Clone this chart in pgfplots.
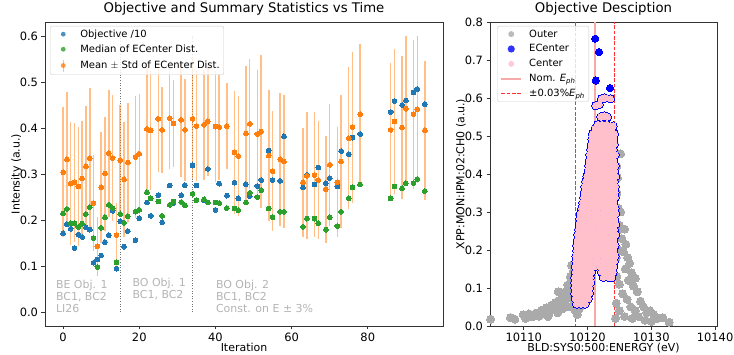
\documentclass[border=0pt]{standalone}
\usepackage{pgfplots}
\usepackage{pgfplotstable}
\pgfplotsset{compat=1.18}
\usepackage{fontspec}
\setmainfont{DejaVu Sans}
\definecolor{mblue}{HTML}{1F77B4}
\definecolor{mgreen}{HTML}{2CA02C}
\definecolor{morange}{HTML}{FF7F0E}
\definecolor{barorange}{HTML}{FFBF86}
\definecolor{outergray}{HTML}{AAAAAA}
\definecolor{cpink}{HTML}{FFC0CB}
\definecolor{ecblue}{HTML}{0000FF}
\definecolor{nomred}{HTML}{F7A8A8}
\definecolor{dashred}{HTML}{FF3030}
\definecolor{annot}{HTML}{B4B4B4}

\pgfplotstableread{
i obj med mean std
0 0.172 0.215 0.305 0.141
1 0.192 0.225 0.333 0.147
2 0.182 0.194 0.280 0.133
3 0.140 0.194 0.283 0.129
4 0.169 0.186 0.274 0.130
5 0.164 0.193 0.291 0.125
6 0.185 0.214 0.318 0.130
7 0.180 0.229 0.335 0.153
8 0.108 0.162 0.238 0.105
9 0.115 0.099 0.144 0.064
10 0.124 0.184 0.272 0.121
11 0.153 0.207 0.302 0.124
12 0.168 0.234 0.346 0.138
13 0.221 0.227 0.336 0.137
14 0.095 0.109 0.168 0.070
15 0.198 0.214 0.331 0.120
16 0.143 0.195 0.290 0.125
17 0.177 0.209 0.326 0.130
19 0.157 0.219 0.338 0.133
20 0.205 0.223 0.345 0.130
22 0.239 0.261 0.399 0.135
23 0.210 0.248 0.396 0.130
25 0.255 0.241 0.421 0.116
26 0.196 0.210 0.397 0.094
28 0.276 0.234 0.422 0.110
29 0.238 0.241 0.411 0.094
31 0.255 0.240 0.419 0.124
32 0.277 0.233 0.397 0.111
34 0.320 0.258 0.421 0.130
35 0.276 0.244 0.405 0.120
37 0.244 0.246 0.408 0.120
38 0.312 0.239 0.416 0.120
40 0.223 0.239 0.404 0.120
41 0.280 0.238 0.403 0.115
43 0.254 0.227 0.405 0.094
45 0.282 0.226 0.348 0.133
46 0.248 0.222 0.340 0.130
48 0.279 0.239 0.389 0.146
49 0.253 0.260 0.410 0.141
51 0.275 0.251 0.388 0.140
52 0.288 0.266 0.393 0.167
54 0.352 0.226 0.341 0.143
55 0.288 0.207 0.307 0.130
57 0.286 0.219 0.333 0.145
58 0.383 0.219 0.328 0.144
63 0.272 0.186 0.283 0.118
64 0.299 0.204 0.297 0.138
66 0.278 0.204 0.299 0.136
67 0.315 0.194 0.288 0.129
69 0.281 0.180 0.268 0.116
70 0.292 0.207 0.321 0.132
72 0.274 0.188 0.283 0.120
73 0.351 0.219 0.328 0.145
75 0.344 0.248 0.379 0.154
76 0.380 0.272 0.403 0.164
78 0.388 0.278 0.431 0.153
86 0.436 0.248 0.397 0.145
87 0.460 0.274 0.415 0.157
89 0.451 0.270 0.402 0.156
90 0.461 0.281 0.443 0.157
92 0.478 0.281 0.431 0.162
93 0.486 0.290 0.442 0.160
95 0.453 0.264 0.396 0.151
}\lefttab

\pgfplotstableread{
x y
10104.8 0.018
10107.9 0.022
10108.6 0.018
10109.9 0.030
10110.3 0.020
10110.8 0.032
10111.3 0.024
10111.9 0.034
10112.4 0.026
10112.8 0.042
10113.2 0.032
10113.6 0.048
10113.8 0.025
10114.0 0.036
10114.3 0.055
10114.7 0.044
10115.0 0.062
10115.2 0.050
10115.3 0.035
10115.4 0.090
10115.6 0.068
10115.9 0.054
10116.0 0.045
10116.1 0.080
10116.3 0.062
10116.6 0.092
10116.8 0.072
10116.9 0.108
10117.0 0.050
10117.1 0.085
10117.3 0.130
10117.4 0.100
10117.5 0.160
10117.6 0.115
10117.7 0.075
10117.8 0.145
10117.9 0.058
10118.1 0.040
10118.4 0.030
10118.7 0.045
10124.6 0.420
10124.7 0.390
10124.6 0.350
10124.8 0.310
10125.2 0.300
10125.0 0.265
10124.7 0.250
10125.8 0.255
10125.4 0.230
10126.0 0.215
10124.9 0.200
10125.6 0.195
10124.5 0.180
10126.3 0.180
10126.6 0.165
10125.9 0.150
10126.9 0.140
10124.6 0.130
10127.5 0.126
10126.4 0.120
10125.0 0.110
10127.2 0.105
10127.8 0.090
10125.5 0.085
10126.2 0.070
10124.5 0.060
10126.8 0.050
10128.3 0.065
10128.8 0.050
10125.0 0.040
10127.5 0.040
10129.3 0.035
10129.8 0.040
10130.4 0.030
10128.0 0.025
10125.8 0.025
10124.4 0.020
10127.0 0.020
10131.0 0.020
10131.8 0.022
10129.0 0.015
10130.0 0.012
10132.8 0.010
10125.2 0.453
}\outertab

\pgfplotstableread{
x y
10118.3 0.058
10119.0 0.058
10119.6 0.058
10118.1 0.072
10118.8 0.072
10119.5 0.072
10120.1 0.072
10118.0 0.086
10118.6 0.086
10119.3 0.086
10120.0 0.086
10120.3 0.086
10118.0 0.100
10118.8 0.100
10119.6 0.100
10120.3 0.100
10118.0 0.114
10118.6 0.114
10119.3 0.114
10120.0 0.114
10120.5 0.114
10118.0 0.128
10118.8 0.128
10119.6 0.128
10120.4 0.128
10122.5 0.128
10123.3 0.128
10123.8 0.128
10118.1 0.142
10118.7 0.142
10119.4 0.142
10120.1 0.142
10120.6 0.142
10122.2 0.142
10122.9 0.142
10123.6 0.142
10124.0 0.142
10118.1 0.156
10118.9 0.156
10119.7 0.156
10120.5 0.156
10121.0 0.156
10122.0 0.156
10122.6 0.156
10123.3 0.156
10124.1 0.156
10118.2 0.170
10118.7 0.170
10119.4 0.170
10120.2 0.170
10121.0 0.170
10121.7 0.170
10122.4 0.170
10123.1 0.170
10123.8 0.170
10124.2 0.170
10118.2 0.184
10119.0 0.184
10119.8 0.184
10120.6 0.184
10121.4 0.184
10122.2 0.184
10123.0 0.184
10123.7 0.184
10124.3 0.184
10118.3 0.198
10118.8 0.198
10119.5 0.198
10120.3 0.198
10121.1 0.198
10121.8 0.198
10122.6 0.198
10123.4 0.198
10124.1 0.198
10118.3 0.212
10119.1 0.212
10119.9 0.212
10120.7 0.212
10121.5 0.212
10122.2 0.212
10123.0 0.212
10123.7 0.212
10124.3 0.212
10118.4 0.226
10118.9 0.226
10119.6 0.226
10120.4 0.226
10121.1 0.226
10121.9 0.226
10122.6 0.226
10123.4 0.226
10124.1 0.226
10118.5 0.240
10119.2 0.240
10120.0 0.240
10120.8 0.240
10121.5 0.240
10122.3 0.240
10123.0 0.240
10123.8 0.240
10124.4 0.240
10118.6 0.254
10119.1 0.254
10119.7 0.254
10120.5 0.254
10121.2 0.254
10122.0 0.254
10122.7 0.254
10123.5 0.254
10124.2 0.254
10118.7 0.268
10119.4 0.268
10120.1 0.268
10120.9 0.268
10121.6 0.268
10122.4 0.268
10123.1 0.268
10123.8 0.268
10124.4 0.268
10118.8 0.282
10119.3 0.282
10119.9 0.282
10120.6 0.282
10121.3 0.282
10122.1 0.282
10122.8 0.282
10123.5 0.282
10124.2 0.282
10118.9 0.296
10119.6 0.296
10120.3 0.296
10121.0 0.296
10121.7 0.296
10122.4 0.296
10123.1 0.296
10123.8 0.296
10124.4 0.296
10119.1 0.310
10119.7 0.310
10120.4 0.310
10121.1 0.310
10121.8 0.310
10122.5 0.310
10123.2 0.310
10123.9 0.310
10124.3 0.310
10119.3 0.324
10119.9 0.324
10120.6 0.324
10121.3 0.324
10122.0 0.324
10122.7 0.324
10123.4 0.324
10124.1 0.324
10119.4 0.338
10120.1 0.338
10120.8 0.338
10121.5 0.338
10122.2 0.338
10122.9 0.338
10123.6 0.338
10124.3 0.338
10119.5 0.352
10120.0 0.352
10120.6 0.352
10121.2 0.352
10121.9 0.352
10122.6 0.352
10123.3 0.352
10124.0 0.352
10124.3 0.352
10119.6 0.366
10120.3 0.366
10121.0 0.366
10121.7 0.366
10122.4 0.366
10123.1 0.366
10123.8 0.366
10124.3 0.366
10119.7 0.380
10120.2 0.380
10120.8 0.380
10121.4 0.380
10122.1 0.380
10122.8 0.380
10123.5 0.380
10124.2 0.380
10119.9 0.394
10120.5 0.394
10121.1 0.394
10121.8 0.394
10122.5 0.394
10123.2 0.394
10123.9 0.394
10124.4 0.394
10120.1 0.408
10120.7 0.408
10121.4 0.408
10122.1 0.408
10122.8 0.408
10123.5 0.408
10124.2 0.408
10120.2 0.422
10120.9 0.422
10121.6 0.422
10122.3 0.422
10123.0 0.422
10123.7 0.422
10124.3 0.422
10120.3 0.436
10120.8 0.436
10121.3 0.436
10122.0 0.436
10122.7 0.436
10123.4 0.436
10124.1 0.436
10120.4 0.450
10121.0 0.450
10121.7 0.450
10122.4 0.450
10123.1 0.450
10123.8 0.450
10124.3 0.450
10120.5 0.464
10121.2 0.464
10121.9 0.464
10122.6 0.464
10123.3 0.464
10124.0 0.464
10120.6 0.478
10121.1 0.478
10121.6 0.478
10122.3 0.478
10123.0 0.478
10123.7 0.478
10124.2 0.478
10120.7 0.492
10121.3 0.492
10122.0 0.492
10122.7 0.492
10123.4 0.492
10124.1 0.492
10120.8 0.506
10121.4 0.506
10122.1 0.506
10122.8 0.506
10123.5 0.506
10124.2 0.506
10121.2 0.520
10121.8 0.520
10122.5 0.520
10123.2 0.520
10123.8 0.520
10121.6 0.530
10122.3 0.530
10123.0 0.530
10124.0 0.526
10122.1 0.550
10122.6 0.553
10123.1 0.550
10121.3 0.580
10121.8 0.583
10122.2 0.598
10122.7 0.600
10123.6 0.598
}\centertab

\pgfplotstableread{
x y
10121.2 0.756
10121.8 0.721
10121.3 0.646
10123.5 0.626
}\ecentertab

\begin{document}
\begin{tikzpicture}
\path[use as bounding box] (0,0) rectangle (734bp,355bp);

\pgfplotsset{
  myaxis/.style={
    scale only axis,
    height=304bp,
    tick align=outside,
    major tick length=3.5bp,
    xtick pos=bottom, ytick pos=left,
    axis line style={black!80, line width=0.8bp},
    tick style={black!80, line width=0.8bp},
    /pgf/number format/assume math mode=true,
    tick label style={font=\fontsize{11.5}{13}\selectfont},
    label style={font=\fontsize{11}{13}\selectfont},
    title style={font=\fontsize{13.3}{15}\selectfont, at={(axis description cs:0.5,1)}, anchor=base, yshift=3.7bp},
    xlabel style={at={(axis description cs:0.5,0)}, anchor=base, yshift=-25.7bp},
    legend cell align=left,
    legend style={font=\fontsize{10}{12}\selectfont, draw=black!20, rounded corners=2bp,
      fill=white, fill opacity=0.8, text opacity=1, draw opacity=1,
      inner xsep=3bp, inner ysep=2.5bp, row sep=4bp,
      nodes={inner sep=1bp},
      /tikz/every odd column/.append style={column sep=6bp}},
  }
}

% ---------------- left axis ----------------
\begin{axis}[myaxis,
  at={(45bp,29bp)}, anchor=south west,
  width=398bp,
  xmin=-4.75, xmax=99.75, ymin=-0.0295, ymax=0.6315,
  xtick={0,20,40,60,80},
  ytick={0,0.1,0.2,0.3,0.4,0.5,0.6},
  yticklabel style={/pgf/number format/.cd, fixed, fixed zerofill, precision=1},
  title={Objective and Summary Statistics vs Time},
  xlabel={Iteration},
  ylabel={Intensity (a.u.)},
  ylabel style={at={(axis description cs:-0.0716,0.5)}, anchor=center},
  legend style={at={(axis description cs:0.0126,0.987)}, anchor=north west},
]
\addplot[forget plot, gray!90!black, line width=1bp, dash pattern=on 1bp off 1.6bp] coordinates {(15,0) (15,0.6)};
\addplot[forget plot, gray!90!black, line width=1bp, dash pattern=on 1bp off 1.6bp] coordinates {(34,0) (34,0.6)};

\addplot[color=mblue, only marks, mark=*, mark size=2.4bp, mark options={draw=mblue, fill=mblue, line width=0pt},
  legend image code/.code={\draw[white, opacity=0, line width=0.1bp] (0,0) -- (20bp,0); \fill[mblue, draw=none] (10bp,0) circle (2.4bp);}]
  table[x=i, y=obj] {\lefttab};
\addlegendentry{Objective /10}
\addplot[color=mgreen, only marks, mark=*, mark size=2.4bp, mark options={draw=mgreen, fill=mgreen, line width=0pt},
  legend image code/.code={\draw[white, opacity=0, line width=0.1bp] (0,0) -- (20bp,0); \fill[mgreen, draw=none] (10bp,0) circle (2.4bp);}]
  table[x=i, y=med] {\lefttab};
\addlegendentry{Median of ECenter Dist.}
\addplot[forget plot, color=morange, only marks, mark=none,
  error bars/.cd, y dir=both, y explicit, error mark=none,
  error bar style={draw=morange, draw opacity=0.5, line width=1.5bp}]
  table[x=i, y=mean, y error=std] {\lefttab};
\addplot[color=morange, only marks, mark=*, mark size=2.4bp, mark options={draw=morange, fill=morange, line width=0pt},
  legend image code/.code={\draw[white, opacity=0, line width=0.1bp] (0,0) -- (20bp,0); \draw[barorange, line width=1.5bp, fill=none] (10bp,-6bp) -- (10bp,6bp); \fill[morange, draw=none] (10bp,0) circle (2.4bp);}]
  table[x=i, y=mean] {\lefttab};
\addlegendentry{Mean $\pm$ Std of ECenter Dist.}

\begin{scope}[every node/.style={font=\fontsize{11}{12}\selectfont, text=annot, inner sep=0pt, anchor=base west}]
\node at (axis cs:-1.9,0.051) {BE Obj. 1};
\node at (axis cs:-1.9,0.0254) {BC1, BC2};
\node at (axis cs:-1.9,0.0) {LI26};
\node at (axis cs:18.2,0.0565) {BO Obj. 1};
\node at (axis cs:18.2,0.031) {BC1, BC2};
\node at (axis cs:40.1,0.051) {BO Obj. 2};
\node at (axis cs:40.1,0.0254) {BC1, BC2};
\node at (axis cs:40.1,0.0) {Const. on E ± 3\%};
\end{scope}
\end{axis}

% ---------------- right axis ----------------
\begin{axis}[myaxis,
  at={(490bp,29bp)}, anchor=south west,
  width=227bp,
  xmin=10104.7, xmax=10140.3, ymin=0, ymax=0.8,
  xtick={10110,10120,10130,10140},
  scaled x ticks=false,
  xticklabel style={/pgf/number format/.cd, fixed, precision=0, 1000 sep={}},
  ytick={0,0.1,0.2,0.3,0.4,0.5,0.6,0.7,0.8},
  yticklabel style={/pgf/number format/.cd, fixed, fixed zerofill, precision=1},
  title={Objective Desciption},
  xlabel={BLD:SYS0:500:ENERGY (eV)},
  ylabel={XPP:MON:IPM:02:CH0 (a.u.)},
  ylabel style={at={(axis description cs:-0.1278,0.5)}, anchor=center},
  legend style={at={(axis description cs:0.031,0.987)}, anchor=north west},
  unbounded coords=jump,
]
\addplot[color=outergray, only marks, mark=*, mark size=4bp, mark options={draw=outergray, fill=outergray, line width=0pt},
  legend image code/.code={\draw[white, opacity=0, line width=0.1bp] (0,0) -- (20bp,0); \fill[outergray, draw=none] (10bp,0) circle (3bp);}]
  table[x=x, y=y] {\outertab};
\addlegendentry{Outer}
\addplot[forget plot, color=ecblue, only marks, mark=*, mark size=4.2bp, mark options={draw=ecblue, fill=ecblue, line width=0pt}]
  table[x=x, y=y] {\centertab};
\addplot[color=ecblue, only marks, mark=*, mark size=3.6bp, mark options={draw=ecblue, fill=ecblue, line width=0pt},
  legend image code/.code={\draw[white, opacity=0, line width=0.1bp] (0,0) -- (20bp,0); \fill[ecblue, draw=none] (10bp,0) circle (3.6bp);}]
  table[x=x, y=y] {\ecentertab};
\addlegendentry{ECenter}
\addplot[color=cpink, only marks, mark=*, mark size=3.2bp, mark options={draw=cpink, fill=cpink, line width=0pt},
  legend image code/.code={\draw[white, opacity=0, line width=0.1bp] (0,0) -- (20bp,0); \fill[cpink, draw=none] (10bp,0) circle (3bp);}]
  table[x=x, y=y] {\centertab};
\addlegendentry{Center}
\addplot[color=nomred, line width=2bp,
  legend image code/.code={\draw[nomred, line width=2bp, fill=none] (0,0) -- (20bp,0);}]
  coordinates {(10121.2,0) (10121.2,0.8)};
\addlegendentry{Nom. \textit{E}\textsubscript{\textit{ph}}}
\addplot[draw=dashred, line width=1.1bp, dash pattern=on 3.7bp off 1.6bp,
  legend image code/.code={\draw[draw=dashred, line width=1.1bp, dash pattern=on 3.7bp off 1.6bp] (0,0) -- (20bp,0);}]
  coordinates {(10124.24,0) (10124.24,0.8) (nan,nan) (10118.16,0.8) (10118.16,0)};
\addlegendentry{±0.03\%\textit{E}\textsubscript{\textit{ph}}}
\end{axis}
\end{tikzpicture}
\end{document}
